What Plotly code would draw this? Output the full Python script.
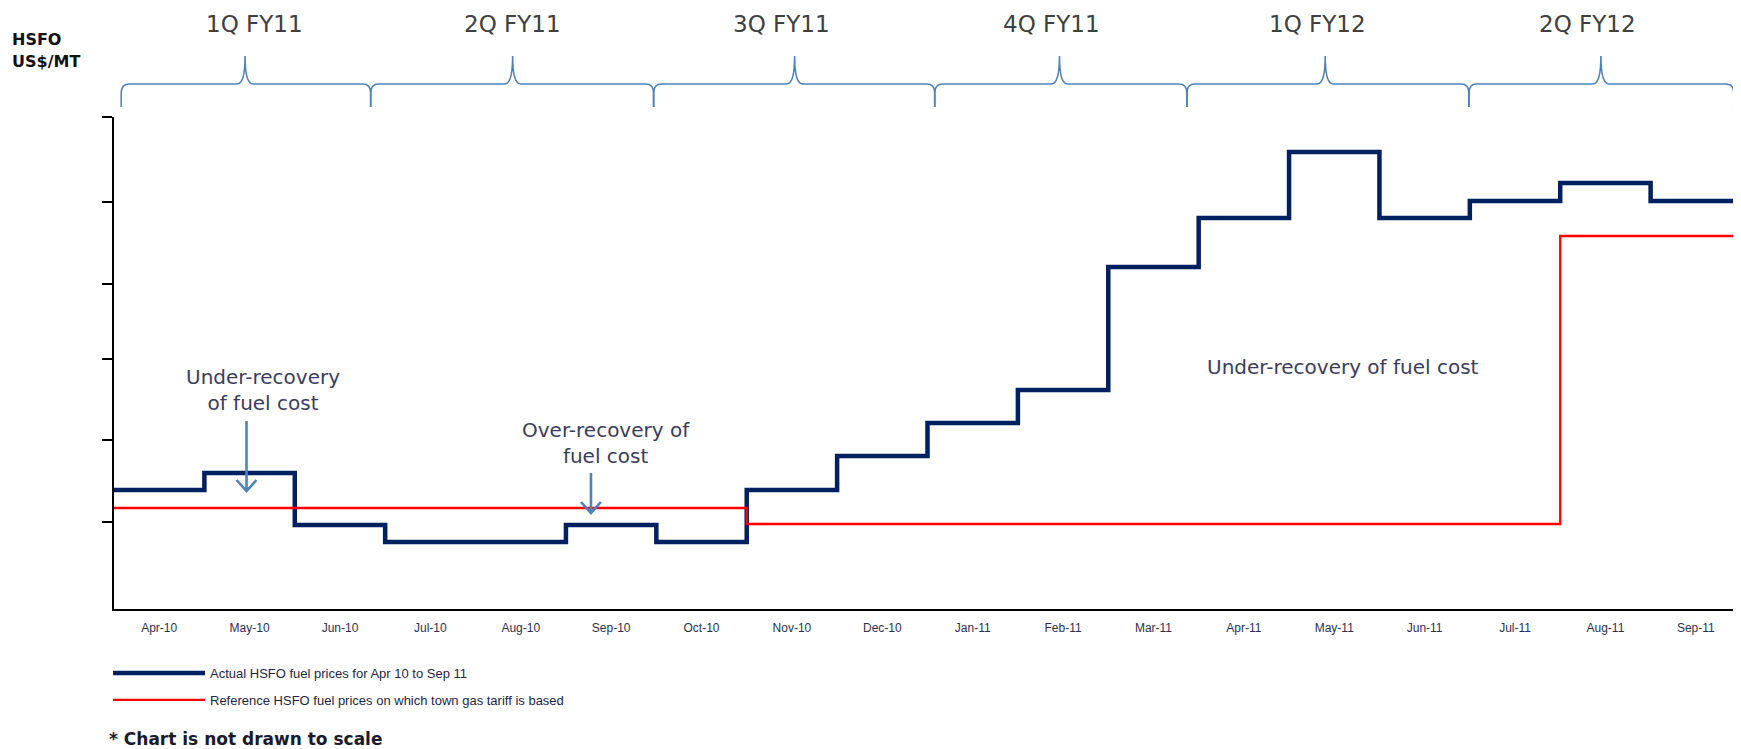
import plotly.graph_objects as go

# ---------------- data ----------------
months = ["Apr-10", "May-10", "Jun-10", "Jul-10", "Aug-10", "Sep-10", "Oct-10",
          "Nov-10", "Dec-10", "Jan-11", "Feb-11", "Mar-11", "Apr-11", "May-11",
          "Jun-11", "Jul-11", "Aug-11", "Sep-11"]
# index values (chart is not drawn to scale)
actual_hsfo = [119, 136, 84, 67, 67, 84, 67, 119, 153, 186, 219, 342, 391, 457,
               391, 408, 426, 408]
reference_hsfo = [101, 101, 101, 101, 101, 101, 101, 85, 85, 85, 85, 85, 85, 85,
                  85, 85, 373, 373]
quarters = ["1Q FY11", "2Q FY11", "3Q FY11", "4Q FY11", "1Q FY12", "2Q FY12"]
ytick_vals = [87, 169, 250, 325, 407, 492]

n = len(months)
x_edges = list(range(n + 1))
x_centers = [i + 0.5 for i in range(n)]
boundaries = list(range(1, n))


def stepped(vals):
    return list(vals) + [vals[-1]]


# ---------------- layout geometry ----------------
# the page body has an 8px margin, so the figure is drawn 8px smaller
OFF = 8
W, H = 1741 - OFF, 749 - OFF
ML, MR, MT, MB = 114 - OFF, 0, 117 - OFF, 140
PH = H - MT - MB
PW = W - ML - MR


def py(ypix):
    """page pixel y -> paper y"""
    return (H - MB - (ypix - OFF)) / PH


def px(xpix):
    """page pixel x -> paper x"""
    return (xpix - OFF - ML) / PW


BLUE = "#002060"
RED = "#FF0000"
BRACE = "#4F81BD"
TXT = "#3a3d5a"
BIG_FONT = "DejaVu Sans"
SMALL_FONT = "Liberation Sans, Arial, sans-serif"

fig = go.Figure()
fig.add_trace(go.Scatter(
    x=x_edges, y=stepped(actual_hsfo), mode="lines",
    line=dict(color=BLUE, width=4.5, shape="hv"),
    name="Actual HSFO fuel prices for Apr 10 to Sep 11", legendgroup="a",
))
fig.add_trace(go.Scatter(
    x=x_edges, y=stepped(reference_hsfo), mode="lines",
    line=dict(color=RED, width=2.3, shape="hv"),
    name="Reference HSFO fuel prices on which town gas tariff is based", legendgroup="b",
))

# hand-drawn quarter braces (positions in month units, as in the original artwork)
brace_joints = [0.08, 2.84, 5.97, 9.08, 11.87, 14.99, 17.92]
brace_peaks = [1.45, 4.41, 7.53, 10.46, 13.40, 16.45]
label_centers = [1.55, 4.41, 7.39, 10.37, 13.32, 16.30]

shapes = []
y_end, y_line, y_peak = py(107), py(84), py(56)
ry = (py(84) - py(93))
rx = 8 / PW
for qi in range(len(quarters)):
    x0 = brace_joints[qi] / n
    x1 = brace_joints[qi + 1] / n
    xm = brace_peaks[qi] / n
    path = (f"M{x0},{y_end} L{x0},{y_line - ry} Q{x0},{y_line} {x0 + rx},{y_line} "
            f"L{xm - rx},{y_line} Q{xm},{y_line} {xm},{y_peak} "
            f"Q{xm},{y_line} {xm + rx},{y_line} L{x1 - rx},{y_line} "
            f"Q{x1},{y_line} {x1},{y_line - ry} L{x1},{y_end}")
    shapes.append(dict(type="path", xref="paper", yref="paper", path=path,
                       line=dict(color=BRACE, width=1.6)))


# arrows (open chevron head)
def arrow(x, ytop, ytip, hw=0.11, hh=11):
    return dict(type="path", xref="x", yref="y",
                path=(f"M{x},{ytop} L{x},{ytip} M{x - hw},{ytip + hh} "
                      f"L{x},{ytip} L{x + hw},{ytip + hh}"),
                line=dict(color=BRACE, width=2.6))


shapes.append(arrow(1.466, 188, 118))
shapes.append(arrow(5.277, 136, 96))

annotations = []
for qi, q in enumerate(quarters):
    annotations.append(dict(x=label_centers[qi], y=py(24), xref="x", yref="paper",
                            text=q, showarrow=False, xanchor="center", yanchor="middle",
                            font=dict(family=BIG_FONT, size=23, color="#404040")))
annotations += [
    dict(x=px(10), y=py(39), xref="paper", yref="paper", text="<b>HSFO</b>",
         showarrow=False, xanchor="left", yanchor="middle",
         font=dict(family=BIG_FONT, size=16, color="#111111")),
    dict(x=px(10), y=py(61), xref="paper", yref="paper", text="<b>US$/MT</b>",
         showarrow=False, xanchor="left", yanchor="middle",
         font=dict(family=BIG_FONT, size=16, color="#111111")),
    dict(x=1.648, y=219, xref="x", yref="y", text="Under-recovery<br>of fuel cost",
         showarrow=False, xanchor="center", yanchor="middle",
         font=dict(family=BIG_FONT, size=20, color=TXT)),
    dict(x=5.44, y=166, xref="x", yref="y", text="Over-recovery of<br>fuel cost",
         showarrow=False, xanchor="center", yanchor="middle",
         font=dict(family=BIG_FONT, size=20, color=TXT)),
    dict(x=13.6, y=242, xref="x", yref="y", text="Under-recovery of fuel cost",
         showarrow=False, xanchor="center", yanchor="middle",
         font=dict(family=BIG_FONT, size=20, color=TXT)),
    dict(x=px(107), y=py(739), xref="paper", yref="paper",
         text="<b>* Chart is not drawn to scale</b>",
         showarrow=False, xanchor="left", yanchor="middle",
         font=dict(family=BIG_FONT, size=17, color="#1a1a2a")),
]

common_x = dict(range=[0, n], showgrid=False, zeroline=False, fixedrange=True)
fig.update_layout(
    width=W, height=H,
    margin=dict(l=ML, r=MR, t=MT, b=MB, pad=0),
    paper_bgcolor="white", plot_bgcolor="white",
    xaxis=dict(**common_x, tickmode="array", tickvals=x_centers, ticktext=months,
               ticks="outside", ticklen=7, tickcolor="rgba(0,0,0,0)",
               showline=True, linecolor="black", linewidth=2,
               tickfont=dict(family=SMALL_FONT, size=12, color="#2d2f50")),
    xaxis2=dict(**common_x, overlaying="x", anchor="y", side="bottom",
                tickmode="array", tickvals=boundaries, ticks="outside", ticklen=5,
                tickwidth=2, tickcolor="black", showticklabels=False, showline=False),
    xaxis3=dict(**common_x, overlaying="x", anchor="y", side="bottom",
                tickmode="array", tickvals=boundaries, ticks="inside", ticklen=5,
                tickwidth=2, tickcolor="black", showticklabels=False, showline=False),
    yaxis=dict(range=[0, PH], showgrid=False, zeroline=False, showline=True,
               linecolor="black", linewidth=2, ticks="outside", ticklen=10,
               tickwidth=2, tickcolor="black", tickmode="array", tickvals=ytick_vals,
               showticklabels=False, fixedrange=True),
    showlegend=True,
    legend=dict(x=px(108), xanchor="left", y=py(658), yanchor="top",
                traceorder="grouped", tracegroupgap=7, itemwidth=92,
                font=dict(family=SMALL_FONT, size=13, color="#1f2544"),
                bgcolor="rgba(0,0,0,0)"),
    shapes=shapes,
    annotations=annotations,
)

fig.write_html("out.html")
